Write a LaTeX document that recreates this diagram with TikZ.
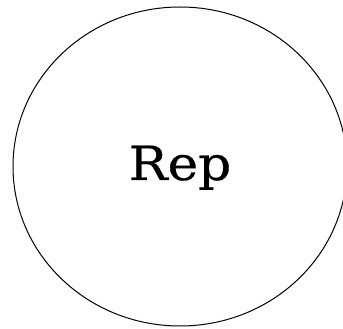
\documentclass[tikz,border=0pt]{standalone}
\usepackage{fontspec}
\newfontfamily\repfont[FakeStretch=1.1,FakeBold=0.6]{DejaVu Serif}
\usetikzlibrary{shapes.geometric}

\begin{document}
\begin{tikzpicture}[x=1pt,y=1pt]
\useasboundingbox (0,0) rectangle (343,329);
\clip (0,0) rectangle (343,329);
\node (rep) [draw,ellipse,line width=1pt,minimum width=334pt,minimum height=319pt,inner sep=0pt] at (180,162.5) {};
\node (lbl) [anchor=base,inner sep=0pt,font=\repfont\fontsize{47}{50}\selectfont] at (180,149) {Rep};
\end{tikzpicture}
\end{document}
